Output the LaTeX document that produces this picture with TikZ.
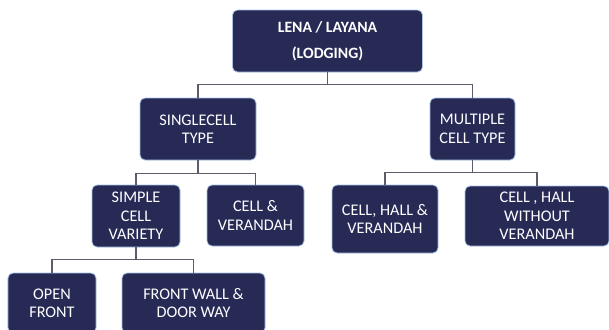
\documentclass[tikz,border=0pt]{standalone}
\usepackage{fontspec}
\setmainfont{Carlito}
\definecolor{boxnavy}{HTML}{262A55}
\definecolor{boxedge}{HTML}{A8C2E6}
\definecolor{linkgray}{HTML}{5C5C6C}
\tikzset{
  box/.style={draw=boxedge, fill=boxnavy, line width=0.8bp, rounded corners=5bp,
    text=white, align=center, inner sep=0pt,
    font=\fontsize{16.3}{18.5}\selectfont},
  link/.style={draw=linkgray, line width=1.3bp}
}
\begin{document}
\begin{tikzpicture}[x=1bp, y=-1bp]
    \useasboundingbox (0,0) rectangle (609,329);

    % Top of the tree
    \node[box, minimum width=190bp, minimum height=62bp,
      font=\bfseries\fontsize{15.8}{26}\selectfont] (root) at (327.5,41) {LENA / LAYANA\\(LODGING)};

    % Second row
    \node[box, minimum width=116bp, minimum height=62bp] (single) at (198,129) {SINGLECELL\\TYPE};
    \node[box, minimum width=85bp, minimum height=62bp] (multi) at (472.5,129) {MULTIPLE\\CELL TYPE};

    % Third row
    \node[box, minimum width=88bp, minimum height=62bp] (simple) at (136,216) {SIMPLE\\CELL\\VARIETY};
    \node[box, minimum width=97bp, minimum height=61bp] (cellver) at (255.5,215.5) {CELL \&\\VERANDAH};
    \node[box, minimum width=106bp, minimum height=68bp] (hallver) at (385,219) {CELL, HALL \&\\VERANDAH};
    \node[box, minimum width=144bp, minimum height=60bp] (hallnover) at (537,216) {CELL , HALL\\WITHOUT\\VERANDAH};

    % Bottom row (cut by the page edge)
    \node[box, minimum width=88bp, minimum height=60bp] (open) at (52,303) {OPEN\\FRONT};
    \node[box, minimum width=143bp, minimum height=60bp] (frontwall) at (193.5,303) {FRONT WALL \&\\DOOR WAY};

    % Connectors
    \draw[link] (root.south) -- ++(0,12) -| (single.north);
    \draw[link] (root.south) -- ++(0,12) -| (multi.north);
    \draw[link] (single.south) -- ++(0,13) -| (simple.north);
    \draw[link] (single.south) -- ++(0,13) -| (cellver.north);
    \draw[link] (multi.south) -- ++(0,12) -| (hallver.north);
    \draw[link] (multi.south) -- ++(0,12) -| (hallnover.north);
    \draw[link] (simple.south) -- ++(0,12) -| (open.north);
    \draw[link] (simple.south) -- ++(0,12) -| (frontwall.north);

\end{tikzpicture}
\end{document}
